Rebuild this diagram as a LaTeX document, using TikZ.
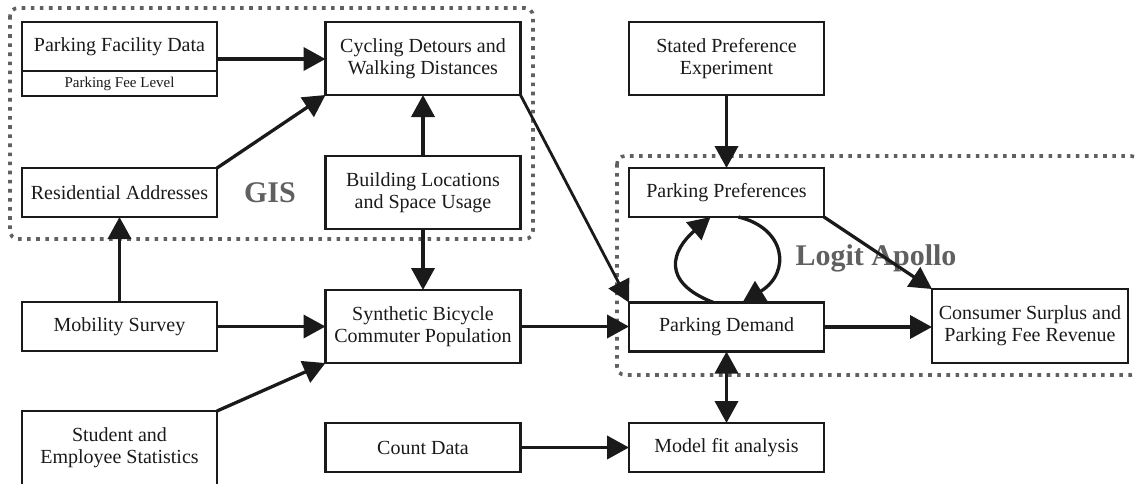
\documentclass[tikz,border=0pt]{standalone}
\usepackage{fontspec}
\setmainfont{Liberation Serif}
\usetikzlibrary{arrows.meta}
\definecolor{ink}{HTML}{1A1A1A}
\definecolor{dotgray}{HTML}{606060}
\begin{document}
\begin{tikzpicture}[x=1pt,y=-1pt,
  >={Triangle[length=22pt,width=23pt]},
  box/.style={draw=ink, line width=2.6pt, inner sep=0pt, outer sep=0pt, minimum width=195pt, align=center, text=ink, font=\fontsize{20}{22}\selectfont},
  one/.style={box, minimum height=49pt},
  two/.style={box, minimum height=73pt},
  plain/.style={inner sep=0pt, text=ink, align=center},
  arr/.style={line width=3.8pt, draw=ink, ->},
  diag/.style={line width=3.3pt, draw=ink, ->},
  thin/.style={line width=2.8pt, draw=ink, ->},
  group/.style={draw=dotgray, line width=3.6pt, dash pattern=on 3.6pt off 5.5pt, rounded corners=8pt},
  grouplabel/.style={inner sep=0pt, text=dotgray, font=\fontsize{30}{32}\selectfont\bfseries}
]
\useasboundingbox (0,0) rectangle (1135,483);

% groups
\draw[group] (10,8) rectangle (533,239);
\draw[group] (617,156) rectangle (1139,375);
\node[grouplabel] (gis) at (270,193) {GIS};
\node[grouplabel] (logit) at (876,258) {Logit Apollo};

% left column
\node[box, minimum height=74pt] (pf) at (119.5,59) {};
\draw[ink, line width=2.6pt] (22,71) -- (217,71);
\node[plain, font=\fontsize{20}{22}\selectfont] (pft) at (119.5,46.5) {Parking Facility Data};
\node[plain, font=\fontsize{15}{17}\selectfont] (pfl) at (119.5,83.5) {Parking Fee Level};
\node[one] (res) at (119.5,192.5) {Residential Addresses};
\node[one] (mob) at (119.5,326.5) {Mobility Survey};
\node[box, minimum height=74pt] (stu) at (119.5,448) {Student and\\Employee Statistics};

% middle column
\node[two] (cyc) at (423,58.5) {Cycling Detours and\\Walking Distances};
\node[two] (bld) at (423,192.5) {Building Locations\\and Space Usage};
\node[two] (syn) at (423,326.5) {Synthetic Bicycle\\Commuter Population};
\node[one] (cnt) at (423,447.5) {Count Data};

% right columns
\node[two] (sp) at (726.5,58.5) {Stated Preference\\Experiment};
\node[one] (pp) at (726.5,192.5) {Parking Preferences};
\node[one] (pd) at (726.5,327) {Parking Demand};
\node[one] (mf) at (726.5,447.5) {Model fit analysis};
\node[box, minimum width=196pt, minimum height=74pt] (cs) at (1030,326) {Consumer Surplus and\\Parking Fee Revenue};

% connectors
\draw[arr] (pf.east) -- (pf.east -| cyc.west);
\draw[diag] (res.north east) -- (cyc.south west);
\draw[arr] (bld.north) -- (cyc.south);
\draw[arr] (mob.north) -- (res.south);
\draw[arr] (bld.south) -- (syn.north);
\draw[arr] (mob.east) -- (mob.east -| syn.west);
\draw[diag] (stu.north east) -- (syn.south west);
\draw[thin] (cyc.south east) -- (pd.north west);
\draw[arr] (syn.east) -- (syn.east -| pd.west);
\draw[arr] (sp.south) -- (pp.north);
\draw[diag] (pp.south east) -- (cs.north west);
\draw[arr] (pd.east) -- (pd.east -| cs.west);
\draw[line width=3.8pt, draw=ink, <->] (pd.south) -- (mf.north);
\draw[arr] (cnt.east) -- (cnt.east -| mf.west);

% feedback loop
\draw[diag] ([xshift=-13pt]pd.north) .. controls (660,282) and (672,250) .. ([xshift=-16pt]pp.south);
\draw[diag] ([xshift=12pt]pp.south) .. controls (785,228) and (792,272) .. ([xshift=16pt]pd.north);
\end{tikzpicture}
\end{document}
